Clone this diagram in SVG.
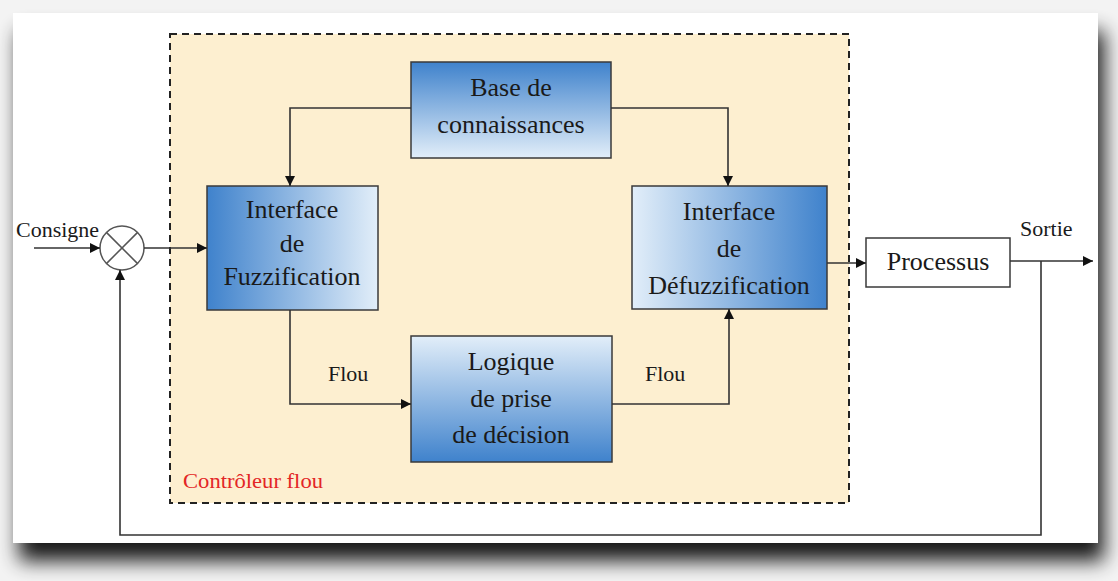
<svg xmlns="http://www.w3.org/2000/svg" width="1118" height="581" viewBox="0 0 1118 581">
<defs>
<linearGradient id="gV" x1="0" y1="0" x2="0" y2="1"><stop offset="0" stop-color="#3f82cc"/><stop offset="1" stop-color="#e2eef9"/></linearGradient>
<linearGradient id="gVr" x1="0" y1="0" x2="0" y2="1"><stop offset="0" stop-color="#e2eef9"/><stop offset="1" stop-color="#3f82cc"/></linearGradient>
<linearGradient id="gH" x1="0" y1="0" x2="1" y2="0"><stop offset="0" stop-color="#3f82cc"/><stop offset="1" stop-color="#e2eef9"/></linearGradient>
<linearGradient id="gHr" x1="0" y1="0" x2="1" y2="0"><stop offset="0" stop-color="#e2eef9"/><stop offset="1" stop-color="#3f82cc"/></linearGradient>
<filter id="sh" x="-5%" y="-5%" width="115%" height="130%"><feGaussianBlur in="SourceAlpha" stdDeviation="10"/><feOffset dx="6" dy="18"/><feComponentTransfer><feFuncA type="linear" slope="0.9"/></feComponentTransfer><feMerge><feMergeNode/><feMergeNode in="SourceGraphic"/></feMerge></filter>
<marker id="ar" viewBox="0 0 10 10" refX="10" refY="5" markerWidth="10" markerHeight="10" markerUnits="userSpaceOnUse" orient="auto"><path d="M0,0 L10,5 L0,10 z" fill="#111"/></marker>
</defs>
<style>
.box{stroke:#3a3a3a;stroke-width:1.5}
.c{fill:none;stroke:#333;stroke-width:1.6}
</style>
<rect width="1118" height="581" fill="#f3f3f3"/>
<rect x="13" y="13" width="1085" height="530" fill="#ffffff" filter="url(#sh)"/>
<g font-family="Liberation Serif, DejaVu Serif, serif" fill="#1a1a1a">
<g id="controleur">
<rect x="170" y="34" width="679" height="469" fill="#fdefd0" stroke="#222" stroke-width="2" stroke-dasharray="7,5"/>
<text x="183" y="488" font-size="21" fill="#e32626" textLength="140" lengthAdjust="spacingAndGlyphs">Contrôleur flou</text>
</g>
<g id="base" font-size="26" text-anchor="middle">
<rect class="box" x="411" y="62" width="200" height="96" fill="url(#gV)"/>
<text x="511" y="96">Base de</text>
<text x="511" y="133">connaissances</text>
</g>
<g id="fuzz" font-size="26" text-anchor="middle">
<rect class="box" x="207" y="186" width="171" height="124" fill="url(#gH)"/>
<text x="292" y="218">Interface</text>
<text x="292" y="252">de</text>
<text x="292" y="285">Fuzzification</text>
</g>
<g id="defuzz" font-size="26" text-anchor="middle">
<rect class="box" x="632" y="186" width="195" height="123" fill="url(#gHr)"/>
<text x="729" y="220">Interface</text>
<text x="729" y="257">de</text>
<text x="729" y="294">Défuzzification</text>
</g>
<g id="logique" font-size="26" text-anchor="middle">
<rect class="box" x="411" y="336" width="201" height="126" fill="url(#gVr)"/>
<text x="511" y="370">Logique</text>
<text x="511" y="407">de prise</text>
<text x="511" y="443">de décision</text>
</g>
<g id="processus" font-size="26" text-anchor="middle">
<rect class="box" x="866" y="238" width="144" height="49" fill="#ffffff"/>
<text x="938" y="270">Processus</text>
</g>
<g id="somme">
<circle cx="122" cy="248" r="22" fill="#fff" stroke="#555" stroke-width="1.5"/>
<path d="M106.4,232.4 L137.6,263.6 M137.6,232.4 L106.4,263.6" stroke="#555" stroke-width="1.5"/>
</g>
<g id="labels" font-size="22">
<text x="16" y="237">Consigne</text>
<text x="1020" y="236">Sortie</text>
<text x="328" y="381">Flou</text>
<text x="645" y="381">Flou</text>
</g>
</g>
<g id="connectors">
<path class="c" d="M34,248 H100" marker-end="url(#ar)"/>
<path class="c" d="M144,248 H207" marker-end="url(#ar)"/>
<path class="c" d="M411,108 H290 V186" marker-end="url(#ar)"/>
<path class="c" d="M611,108 H728 V186" marker-end="url(#ar)"/>
<path class="c" d="M290,310 V404 H411" marker-end="url(#ar)"/>
<path class="c" d="M612,404 H729 V309" marker-end="url(#ar)"/>
<path class="c" d="M827,263 H866" marker-end="url(#ar)"/>
<path class="c" d="M1010,261 H1093" marker-end="url(#ar)"/>
<path class="c" d="M1041,261 V535 H120 V270" marker-end="url(#ar)"/>
</g>
</svg>
